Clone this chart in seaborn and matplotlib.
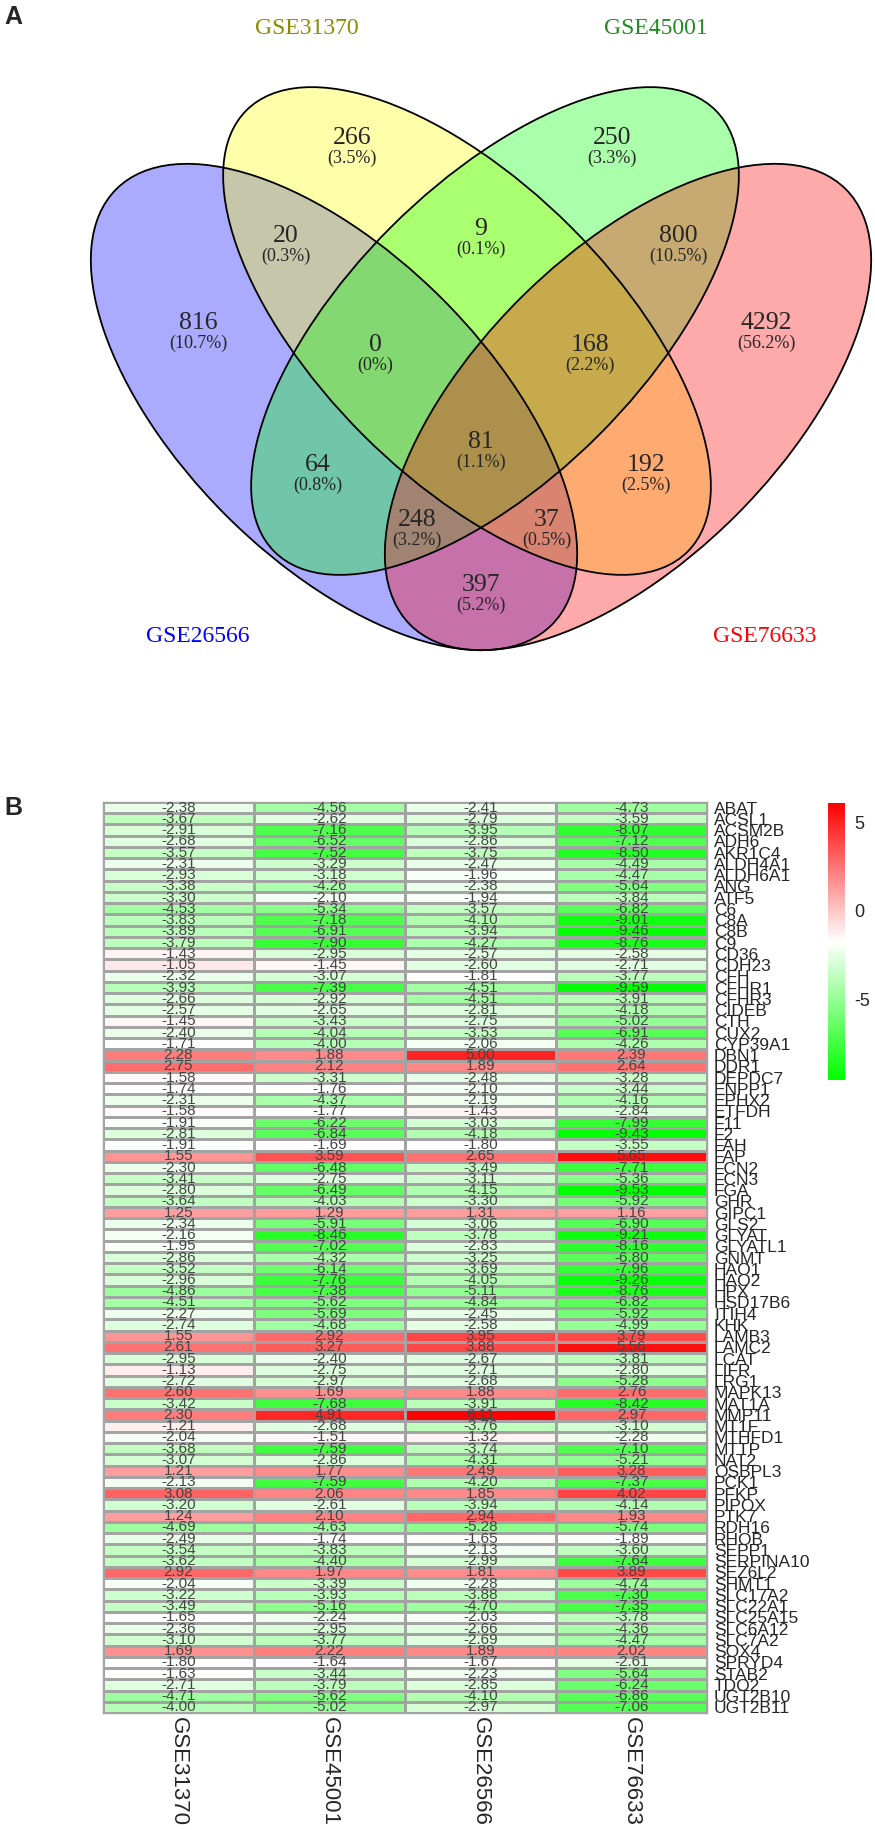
import numpy as np
import pandas as pd
import matplotlib
matplotlib.use("Agg")
import matplotlib.pyplot as plt
from matplotlib.patches import Ellipse
from matplotlib.colors import LinearSegmentedColormap
import seaborn as sns

sns.set_theme(style="white")
plt.rcParams['font.family'] = ['Liberation Sans', 'DejaVu Sans']

# ---------------- Venn data ----------------
set_names = ["GSE26566", "GSE31370", "GSE45001", "GSE76633"]
set_colors = ["#0000FF", "#FFFF00", "#00FF00", "#FF0000"]
label_colors = ["#0000FF", "#8B8B00", "#228B22", "#FF0000"]
region_names = ["816", "266", "250", "4292", "20", "9", "800", "0", "168",
                "81", "64", "192", "248", "37", "397"]
region_counts = [816, 266, 250, 4292, 20, 9, 800, 0, 168, 81, 64, 192, 248, 37, 397]

# ---------------- Heatmap data ----------------
genes = ["ABAT", "ACSL1", "ACSM2B", "ADH6", "AKR1C4", "ALDH4A1", "ALDH6A1", "ANG", "ATF5",
         "C6", "C8A", "C8B", "C9", "CD36", "CDH23", "CFH", "CFHR1", "CFHR3", "CIDEB", "CTH",
         "CUX2", "CYP39A1", "DBN1", "DDR1", "DEPDC7", "ENPP1", "EPHX2", "ETFDH", "F11", "F2",
         "FAH", "FAP", "FCN2", "FCN3", "FGA", "GHR", "GIPC1", "GLS2", "GLYAT", "GLYATL1",
         "GNMT", "HAO1", "HAO2", "HPX", "HSD17B6", "ITIH4", "KHK", "LAMB3", "LAMC2", "LCAT",
         "LIFR", "LRG1", "MAPK13", "MAT1A", "MMP11", "MT1F", "MTHFD1", "MTTP", "NAT2", "OSBPL3",
         "PCK1", "PFKP", "PIPOX", "PTK7", "RDH16", "RHOB", "SEPP1", "SERPINA10", "SEZ6L2", "SHMT1",
         "SLC17A2", "SLC22A1", "SLC25A15", "SLC6A12", "SLC7A2", "SOX4", "SPRYD4", "STAB2", "TDO2",
         "UGT2B10", "UGT2B11"]

gse31370 = [-2.38, -3.67, -2.91, -2.68, -3.57, -2.31, -2.93, -3.38, -3.30, -4.53, -3.83, -3.89,
            -3.79, -1.43, -1.05, -2.32, -3.93, -2.66, -2.57, -1.45, -2.40, -1.71, 2.28, 2.75,
            -1.58, -1.74, -2.31, -1.58, -1.91, -2.81, -1.91, 1.55, -2.30, -3.41, -2.80, -3.64,
            1.25, -2.34, -2.16, -1.95, -2.86, -3.52, -2.96, -4.86, -4.51, -2.27, -2.74, 1.55,
            2.61, -2.95, -1.13, -2.72, 2.60, -3.42, 2.30, -1.21, -2.04, -3.68, -3.07, 1.21,
            -2.13, 3.08, -3.20, 1.24, -4.69, -2.49, -3.54, -3.62, 2.92, -2.04, -3.22, -3.49,
            -1.65, -2.36, -3.10, 1.69, -1.80, -1.63, -2.71, -4.71, -4.00]
gse45001 = [-4.56, -2.62, -7.16, -6.52, -7.52, -3.29, -3.18, -4.26, -2.10, -5.34, -7.18, -6.91,
            -7.90, -2.95, -1.45, -3.07, -7.39, -2.92, -2.65, -3.43, -4.04, -4.00, 1.88, 2.12,
            -3.31, -1.76, -4.37, -1.77, -6.22, -6.84, -1.69, 3.59, -6.48, -2.75, -6.49, -4.03,
            1.29, -5.91, -8.46, -7.02, -4.32, -6.14, -7.76, -7.38, -5.62, -5.69, -4.68, 2.92,
            3.27, -2.40, -2.75, -2.97, 1.69, -7.68, 4.91, -2.68, -1.51, -7.59, -2.86, 1.77,
            -7.59, 2.06, -2.61, 2.10, -4.63, -1.74, -3.83, -4.40, 1.97, -3.39, -3.93, -5.16,
            -2.24, -2.95, -3.77, 2.22, -1.64, -3.44, -3.79, -5.62, -5.02]
gse26566 = [-2.41, -2.79, -3.95, -2.86, -3.75, -2.47, -1.96, -2.38, -1.94, -3.57, -4.10, -3.94,
            -4.27, -2.57, -2.60, -1.81, -4.51, -4.51, -2.81, -2.75, -3.53, -2.06, 5.00, 1.89,
            -2.48, -2.10, -2.19, -1.43, -3.03, -4.18, -1.80, 2.65, -3.49, -3.11, -4.15, -3.30,
            1.31, -3.06, -3.78, -2.83, -3.25, -3.69, -4.05, -5.11, -4.84, -2.45, -2.58, 3.95,
            3.88, -2.67, -2.71, -2.68, 1.88, -3.91, 6.11, -3.76, -1.32, -3.74, -4.31, 2.49,
            -4.20, 1.85, -3.94, 2.94, -5.28, -1.65, -2.13, -2.99, 1.81, -2.28, -3.88, -4.70,
            -2.03, -2.66, -2.69, 1.89, -1.67, -2.23, -2.85, -4.10, -2.97]
gse76633 = [-4.73, -3.59, -8.07, -7.12, -8.50, -4.49, -4.47, -5.64, -3.84, -6.82, -9.01, -9.46,
            -8.76, -2.58, -2.71, -3.77, -9.59, -3.91, -4.18, -5.02, -6.91, -4.26, 2.39, 2.64,
            -3.28, -3.44, -4.16, -2.84, -7.99, -9.43, -3.55, 5.65, -7.71, -5.36, -9.53, -5.92,
            1.16, -6.90, -9.21, -8.16, -6.80, -7.96, -9.26, -8.76, -6.82, -5.92, -4.99, 3.79,
            5.56, -3.81, -2.80, -5.28, 2.76, -8.42, 2.97, -3.10, -2.28, -7.10, -5.21, 3.28,
            -7.37, 4.02, -4.14, 1.93, -5.74, -1.89, -3.60, -7.64, 3.89, -4.74, -7.30, -7.35,
            -3.78, -4.36, -4.47, 2.02, -2.61, -5.64, -6.24, -6.86, -7.06]
col_names = ["GSE31370", "GSE45001", "GSE26566", "GSE76633"]
cbar_ticks = [-5, 0, 5]

df = pd.DataFrame({col_names[0]: gse31370, col_names[1]: gse45001,
                   col_names[2]: gse26566, col_names[3]: gse76633}, index=genes)

W, H = 875, 1830
fig = plt.figure(figsize=(W / 100, H / 100), dpi=100)

# ---------------- Venn panel ----------------
VH = 680
axv = fig.add_axes([0, 1 - VH / H, 1, VH / H])
axv.set_xlim(0, W)
axv.set_ylim(VH, 0)
axv.axis("off")

# ellipse geometry (pixel units)
ell_geom = [
    (334, 407, 616, 306, 45),   # GSE26566 blue
    (467, 331, 624, 294, 45),   # GSE31370 yellow
    (495, 331, 624, 294, -45),  # GSE45001 green
    (628, 407, 616, 306, -45),  # GSE76633 red
]
for (cx, cy, w, h, ang), col in zip(ell_geom, set_colors):
    axv.add_patch(Ellipse((cx, cy), w, h, angle=ang, facecolor=col, alpha=1 / 3,
                          edgecolor="none", zorder=1))
for (cx, cy, w, h, ang) in ell_geom:
    axv.add_patch(Ellipse((cx, cy), w, h, angle=ang, facecolor="none",
                          edgecolor="black", lw=1.3, zorder=2))

region_pos = [(198, 323), (352, 138), (612, 138), (766, 323), (286, 236), (481, 229),
              (678, 236), (375, 345), (590, 345), (481, 442), (318, 465), (646, 465),
              (417, 520), (547, 520), (481, 585)]
total = sum(region_counts)
serif = ["Liberation Serif", "DejaVu Serif"]
for name, cnt, (x, y) in zip(region_names, region_counts, region_pos):
    axv.text(x, y, name, ha="center", va="center", fontsize=18.5, family=serif, zorder=3)
    pct = "0%" if cnt == 0 else f"{100 * cnt / total:.1f}%"
    axv.text(x, y + 20, f"({pct})", ha="center", va="center", fontsize=13,
             family=serif, zorder=3)

label_pos = [(198, 637), (307, 28), (656, 28), (765, 637)]
for name, col, (x, y) in zip(set_names, label_colors, label_pos):
    axv.text(x, y, name, ha="center", va="center", fontsize=17, family=serif, color=col)

fig.text(4 / W, 1 - 17 / H, "A", fontsize=18, fontweight="bold", ha="left", va="center")
fig.text(4 / W, 1 - 808 / H, "B", fontsize=18, fontweight="bold", ha="left", va="center")

# ---------------- Heatmap panel ----------------
cmap = LinearSegmentedColormap.from_list("gwr", ["#00FF00", "#FFFFFF", "#FF0000"])
vmin = float(df.values.min())
vmax = float(df.values.max())

hx0, hx1, hy0, hy1 = 103, 707, 802, 1713
axh = fig.add_axes([hx0 / W, 1 - hy1 / H, (hx1 - hx0) / W, (hy1 - hy0) / H])
cax = fig.add_axes([828 / W, 1 - 1080 / H, 17 / W, 277 / H])

sns.heatmap(df, ax=axh, cmap=cmap, vmin=vmin, vmax=vmax, annot=True, fmt=".2f",
            annot_kws={"size": 11, "color": "#454545"}, linewidths=1, linecolor="#a3a3a3",
            cbar=True, cbar_ax=cax)

axh.yaxis.tick_right()
axh.set_yticks(np.arange(len(genes)) + 0.5)
axh.set_yticklabels(genes, rotation=0, fontsize=12.5, ha="left")
axh.set_xticks(np.arange(len(col_names)) + 0.5)
axh.set_xticklabels(col_names, rotation=270, fontsize=16, va="top", ha="center")
axh.tick_params(axis="both", length=0, pad=3)
axh.tick_params(axis="y", pad=5)
axh.set_xlabel("")
axh.set_ylabel("")
for s in axh.spines.values():
    s.set_visible(True)
    s.set_color("#a3a3a3")
    s.set_linewidth(1)

cax.set_yticks(cbar_ticks)
cax.set_yticklabels([str(t) for t in cbar_ticks], fontsize=13)
cax.tick_params(length=0, pad=7)
for s in cax.spines.values():
    s.set_visible(False)

fig.savefig("out.png", dpi=100)
